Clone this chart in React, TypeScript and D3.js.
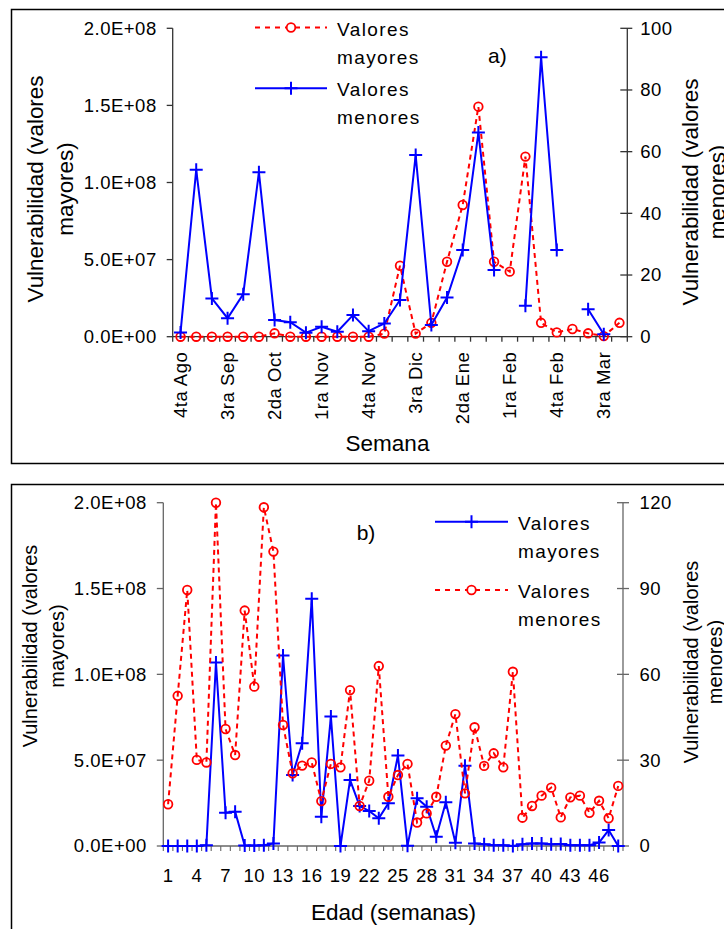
import React from 'react';
import * as d3 from 'd3';

const FONT = '"Liberation Sans", Arial, Helvetica, sans-serif';
const RED = '#FF0000';
const BLUE = '#0000FF';

// ---------- Panel a) ----------
const weeksA = [
  '4ta Ago', '1ra Sep', '2da Sep', '3ra Sep', '4ta Sep', '1ra Oct', '2da Oct', '3ra Oct', '4ta Oct',
  '1ra Nov', '2da Nov', '3ra Nov', '4ta Nov', '1ra Dic', '2da Dic', '3ra Dic', '4ta Dic', '1ra Ene',
  '2da Ene', '3ra Ene', '4ta Ene', '1ra Feb', '2da Feb', '3ra Feb', '4ta Feb', '1ra Mar', '2da Mar',
  '3ra Mar', '4ta Mar',
];
// Valores mayores (left axis)
const mayoresA: (number | null)[] = [
  0, 0, 0, 0, 0, 0, 2.2e6, 0, 0, 0, 0, 0, 0, 2.0e6, 4.6e7, 2.0e6, 9.0e6, 4.86e7, 8.54e7, 1.492e8,
  4.86e7, 4.22e7, 1.168e8, 9.0e6, 2.8e6, 5.0e6, 2.2e6, 0.4e6, 9.0e6,
];
// Valores menores (right axis)
const menoresA: (number | null)[] = [
  1.4, 54.1, 12.4, 6.0, 13.8, 53.3, 5.4, 4.7, 1.3, 3.2, 1.6, 7.0, 1.8, 4.3, 11.9, 58.9, 3.8, 12.7,
  28.1, 66.2, 21.6, null, 10.0, 90.6, 28.1, null, 8.9, 0.8, null,
];
const leftTicksA = [0, 5e7, 1e8, 1.5e8, 2e8];
const rightTicksA = [0, 20, 40, 60, 80, 100];

// ---------- Panel b) ----------
const weeksB = Array.from({ length: 48 }, (_, i) => String(i + 1));
// Valores mayores (left axis)
const mayoresB: (number | null)[] = [
  0, 0, 0, 0, 0.5e6, 1.069e8, 1.94e7, 2.0e7, 0.3e6, 0.3e6, 0.5e6, 1.5e6, 1.11e8, 4.14e7, 5.99e7,
  1.44e8, 1.71e7, 7.54e7, 0, 3.85e7, 2.33e7, 2.04e7, 1.61e7, 2.49e7, 5.27e7, 0.2e6, 2.78e7, 2.29e7,
  5.4e6, 2.55e7, 1.9e6, 4.68e7, 1.5e6, 1.0e6, 0.5e6, 0.5e6, 0, 1.0e6, 1.5e6, 1.5e6, 1.0e6, 1.2e6,
  0.5e6, 0.5e6, 0.5e6, 2.0e6, 9.3e6, 0,
];
// Valores menores (right axis)
const menoresB: (number | null)[] = [
  14.6, 52.5, 89.5, 30.1, 29.2, 120, 40.9, 31.8, 82.3, 55.7, 118.4, 102.9, 42.3, 25.4, 28.1, 29.2,
  15.7, 28.7, 27.5, 54.5, 14.0, 22.8, 62.9, 17.2, 24.8, 28.7, 8.2, 11.4, 17.2, 35.1, 46.1, 18.4,
  41.5, 28.0, 32.4, 27.5, 60.9, 9.9, 14.0, 17.6, 20.4, 10.0, 17.0, 17.6, 11.6, 15.8, 9.7, 21.0,
];
const leftTicksB = [0, 5e7, 1e8, 1.5e8, 2e8];
const rightTicksB = [0, 30, 60, 90, 120];

function sci(v: number): string {
  if (v === 0) return '0.0E+00';
  const e = Math.floor(Math.log10(v) + 1e-9);
  const m = v / Math.pow(10, e);
  return m.toFixed(1) + 'E+' + String(e).padStart(2, '0');
}

type SeriesProps = {
  vals: (number | null)[];
  cx: (i: number) => number;
  y: d3.ScaleLinear<number, number>;
  color: string;
  dashed: boolean;
  marker: 'circle' | 'plus';
};

function Series({ vals, cx, y, color, dashed, marker }: SeriesProps) {
  const line = d3
    .line<number | null>()
    .defined((d) => d != null)
    .x((_, i) => cx(i))
    .y((d) => y(d as number));
  return (
    <g>
      <path
        d={line(vals) || ''}
        fill="none"
        stroke={color}
        strokeWidth={2}
        strokeDasharray={dashed ? '5,4' : undefined}
      />
      {vals.map((v, i) =>
        v == null ? null : marker === 'circle' ? (
          <circle key={i} cx={cx(i)} cy={y(v)} r={4.3} fill="none" stroke={color} strokeWidth={1.8} />
        ) : (
          <path
            key={i}
            transform={`translate(${cx(i)},${y(v)})`}
            d="M-6.5,0H6.5M0,-6.5V6.5"
            stroke={color}
            strokeWidth={2}
          />
        )
      )}
    </g>
  );
}

function LegendEntry({ x, y, color, dashed, marker, l1, l2, lw }: any) {
  const mx = (x + x + lw) / 2;
  return (
    <g>
      <line x1={x} x2={x + lw} y1={y} y2={y} stroke={color} strokeWidth={2} strokeDasharray={dashed ? '5,5' : undefined} />
      {marker === 'circle' ? (
        <circle cx={mx} cy={y} r={4.3} fill="white" stroke={color} strokeWidth={1.8} />
      ) : (
        <path transform={`translate(${mx},${y})`} d="M-6.5,0H6.5M0,-6.5V6.5" stroke={color} strokeWidth={2} />
      )}
      <text x={x + lw + 10} y={y + 8} fontSize={19} letterSpacing={1.4} fill="#000">{l1}</text>
      <text x={x + lw + 10} y={y + 36} fontSize={19} letterSpacing={1.4} fill="#000">{l2}</text>
    </g>
  );
}

function VTitle({ x1, x2, cy, l1, l2, size }: any) {
  return (
    <g fontSize={size} fill="#000">
      <text transform={`translate(${x1},${cy}) rotate(-90)`} textAnchor="middle">{l1}</text>
      <text transform={`translate(${x2},${cy}) rotate(-90)`} textAnchor="middle">{l2}</text>
    </g>
  );
}

export default function App() {
  // ----- panel a geometry -----
  const aL = 172.7, aR = 627.3, aT = 28.3, aB = 336.7;
  const xA = d3.scaleBand<string>().domain(weeksA).range([aL, aR]).padding(0);
  const cxA = (i: number) => (xA(weeksA[i]) as number) + xA.bandwidth() / 2;
  const yLA = d3.scaleLinear().domain([0, 2e8]).range([aB, aT]);
  const yRA = d3.scaleLinear().domain([0, 100]).range([aB, aT]);

  // ----- panel b geometry -----
  const bL = 163.3, bR = 623, bT = 502.7, bB = 846;
  const xB = d3.scaleBand<string>().domain(weeksB).range([bL, bR]).padding(0);
  const cxB = (i: number) => (xB(weeksB[i]) as number) + xB.bandwidth() / 2;
  const yLB = d3.scaleLinear().domain([0, 2e8]).range([bB, bT]);
  const yRB = d3.scaleLinear().domain([0, 120]).range([bB, bT]);

  const axA = '#333333';
  const axB = '#666666';

  return (
    <svg
      width={724}
      height={929}
      style={{ position: 'absolute', left: 0, top: 0, background: '#fff' }}
      fontFamily={FONT}
    >
      <rect x={0} y={0} width={724} height={929} fill="#fff" />
      {/* panel borders */}
      <rect x={11.5} y={9.5} width={740} height={454} fill="none" stroke="#000" strokeWidth={1.5} />
      <rect x={11.5} y={484.5} width={740} height={470} fill="none" stroke="#000" strokeWidth={1.5} />

      {/* ================= Panel a ================= */}
      <g>
        {/* left axis */}
        <line x1={aL} x2={aL} y1={aT} y2={aB} stroke={axA} strokeWidth={1.3} />
        {leftTicksA.map((t) => (
          <g key={t}>
            <line x1={aL - 6} x2={aL} y1={yLA(t)} y2={yLA(t)} stroke={axA} strokeWidth={1.3} />
            <text x={aL - 16} y={yLA(t)} dy="0.35em" textAnchor="end" fontSize={18.5} letterSpacing={0.5}>
              {sci(t)}
            </text>
          </g>
        ))}
        {/* right axis */}
        <line x1={aR} x2={aR} y1={aT} y2={aB} stroke={axA} strokeWidth={1.3} />
        {rightTicksA.map((t) => (
          <g key={t}>
            <line x1={aR - 7} x2={aR + 5} y1={yRA(t)} y2={yRA(t)} stroke={axA} strokeWidth={1.3} />
            <text x={aR + 13} y={yRA(t)} dy="0.35em" textAnchor="start" fontSize={18.5} letterSpacing={0.5}>
              {t}
            </text>
          </g>
        ))}
        {/* x axis */}
        <line x1={aL} x2={aR} y1={aB} y2={aB} stroke={axA} strokeWidth={1.3} />
        {d3.range(weeksA.length + 1).map((i) => {
          const xx = aL + i * xA.bandwidth();
          return <line key={i} x1={xx} x2={xx} y1={aB} y2={aB + 5} stroke={axA} strokeWidth={1.3} />;
        })}
        {weeksA.map((w, i) =>
          i % 3 === 0 ? (
            <text
              key={w}
              transform={`translate(${cxA(i)},${aB + 15}) rotate(-90)`}
              dy="0.35em"
              textAnchor="end"
              fontSize={18.5}
              letterSpacing={0.5}
            >
              {w}
            </text>
          ) : null
        )}
        <text x={387.5} y={450.5} textAnchor="middle" fontSize={22.5}>Semana</text>
        <VTitle x1={43} x2={73} cy={189} l1="Vulnerabilidad (valores" l2="mayores)" size={22.4} />
        <VTitle x1={697.5} x2={725} cy={192} l1="Vulnerabilidad (valores" l2="menores)" size={22.4} />
        <text x={488} y={63.3} fontSize={21}>a)</text>

        <Series vals={mayoresA} cx={cxA} y={yLA} color={RED} dashed marker="circle" />
        <Series vals={menoresA} cx={cxA} y={yRA} color={BLUE} dashed={false} marker="plus" />

        <LegendEntry x={255} y={27.5} lw={72} color={RED} dashed marker="circle" l1="Valores" l2="mayores" />
        <LegendEntry x={255} y={88.3} lw={72} color={BLUE} dashed={false} marker="plus" l1="Valores" l2="menores" />
      </g>

      {/* ================= Panel b ================= */}
      <g>
        <line x1={bL} x2={bL} y1={bT} y2={bB} stroke={axB} strokeWidth={1.3} />
        {leftTicksB.map((t) => (
          <g key={t}>
            <line x1={bL - 6.5} x2={bL} y1={yLB(t)} y2={yLB(t)} stroke={axB} strokeWidth={1.3} />
            <text x={bL - 16.5} y={yLB(t)} dy="0.35em" textAnchor="end" fontSize={18.5} letterSpacing={0.5}>
              {sci(t)}
            </text>
          </g>
        ))}
        <line x1={bR} x2={bR} y1={bT} y2={bB} stroke={axB} strokeWidth={1.3} />
        {rightTicksB.map((t) => (
          <g key={t}>
            <line x1={bR - 6} x2={bR + 6} y1={yRB(t)} y2={yRB(t)} stroke={axB} strokeWidth={1.3} />
            <text x={bR + 16.5} y={yRB(t)} dy="0.35em" textAnchor="start" fontSize={18.5} letterSpacing={0.5}>
              {t}
            </text>
          </g>
        ))}
        <line x1={bL} x2={bR} y1={bB} y2={bB} stroke={axB} strokeWidth={1.3} />
        {d3.range(weeksB.length + 1).map((i) => {
          const xx = bL + i * xB.bandwidth();
          return <line key={i} x1={xx} x2={xx} y1={bB} y2={bB + 5} stroke={axB} strokeWidth={1.1} />;
        })}
        {weeksB.map((w, i) =>
          i % 3 === 0 ? (
            <text key={w} x={cxB(i)} y={881.7} textAnchor="middle" fontSize={18.5} letterSpacing={0.5}>
              {w}
            </text>
          ) : null
        )}
        <text x={393.5} y={920} textAnchor="middle" fontSize={22.5}>Edad (semanas)</text>
        <VTitle x1={37} x2={64} cy={646} l1="Vulnerabilidad (valores" l2="mayores)" size={20} />
        <VTitle x1={698} x2={722} cy={662} l1="Vulnerabilidad (valores" l2="menores)" size={20} />
        <text x={356.7} y={540} fontSize={21}>b)</text>

        <Series vals={mayoresB} cx={cxB} y={yLB} color={BLUE} dashed={false} marker="plus" />
        <Series vals={menoresB} cx={cxB} y={yRB} color={RED} dashed marker="circle" />

        <LegendEntry x={435} y={521.7} lw={73} color={BLUE} dashed={false} marker="plus" l1="Valores" l2="mayores" />
        <LegendEntry x={435} y={590} lw={73} color={RED} dashed marker="circle" l1="Valores" l2="menores" />
      </g>
    </svg>
  );
}
